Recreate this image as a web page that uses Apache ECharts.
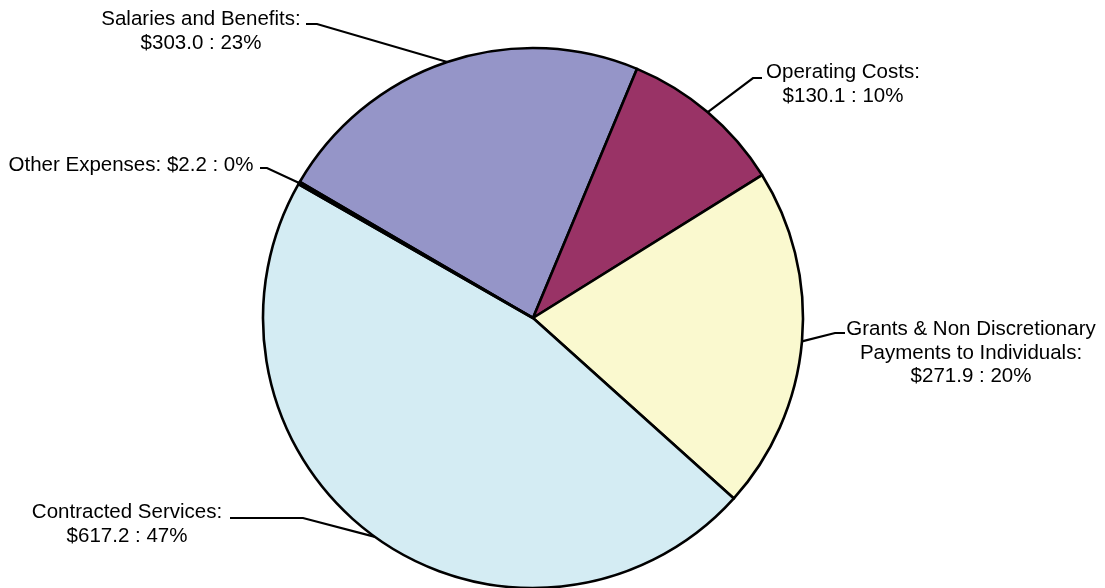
<!DOCTYPE html>
<html>
<head>
<meta charset="utf-8">
<script src="https://cdn.jsdelivr.net/npm/echarts@6/dist/echarts.min.js"></script>
<style>
html,body{margin:0;padding:0;background:#fff;}
#chart{width:1105px;height:588px;}
</style>
</head>
<body>
<div id="chart"></div>
<script>
// Data
var categories = ['Salaries and Benefits', 'Operating Costs', 'Grants & Non Discretionary\nPayments to Individuals', 'Contracted Services', 'Other Expenses'];
var values = [303.0, 130.1, 271.9, 617.2, 2.2];
var percentLabels = ['23%', '10%', '20%', '47%', '0%'];
var colors = ['#9595C8', '#993366', '#FAF9CF', '#D4ECF3', '#222222'];

// label placement (layout only)
var labelPlaces = [
  {x: 201, y: 31.5, elbow: [317, 24], end: [306, 24]},
  {x: 843, y: 84.5, elbow: [753, 78], end: [762, 78]},
  {x: 971, y: 353, elbow: [835, 333], end: [845, 333]},
  {x: 127, y: 524.5, elbow: [303, 518], end: [230, 518]},
  {x: 131, y: 165, elbow: [267, 168], end: [260, 168]}
];

var data = categories.map(function (c, i) {
  var text = (i === 4)
    ? c + ': $' + values[i].toFixed(1) + ' : ' + percentLabels[i]
    : c + ':\n$' + values[i].toFixed(1) + ' : ' + percentLabels[i];
  return {
    name: c,
    value: values[i],
    itemStyle: {color: colors[i]},
    label: {formatter: text}
  };
});

var chart = echarts.init(document.getElementById('chart'), null, {renderer: 'canvas'});
chart.setOption({
  backgroundColor: '#ffffff',
  animation: false,
  series: [{
    type: 'pie',
    center: [533, 318],
    radius: 270,
    startAngle: 149.7,
    clockwise: true,
    avoidLabelOverlap: false,
    data: data,
    itemStyle: {borderColor: '#000000', borderWidth: 2.6},
    label: {
      show: true,
      position: 'outside',
      fontFamily: 'Liberation Sans, Arial, sans-serif',
      fontSize: 20.5,
      lineHeight: 23.5,
      color: '#000000',
      align: 'center'
    },
    labelLine: {
      show: true,
      length: 20,
      length2: 20,
      smooth: false,
      lineStyle: {color: '#000000', width: 2.2}
    },
    emphasis: {disabled: true},
    labelLayout: function (params) {
      var p = labelPlaces[params.dataIndex];
      var start = params.labelLinePoints ? params.labelLinePoints[0] : null;
      var res = {x: p.x, y: p.y, align: 'center', verticalAlign: 'middle'};
      if (start) {
        res.labelLinePoints = [start, p.elbow, p.end];
      }
      return res;
    }
  }]
});
</script>
</body>
</html>
